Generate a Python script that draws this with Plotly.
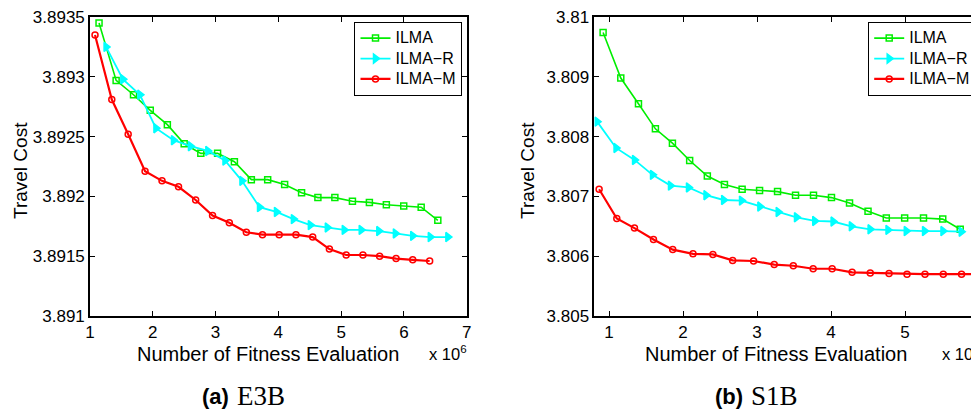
import plotly.graph_objects as go

# ---------------- data ----------------
series_names = ["ILMA", "ILMA\u2212R", "ILMA\u2212M"]

# (a) E3B
a_ilma_x = [1.144, 1.416, 1.693, 1.96, 2.232, 2.50, 2.765, 3.032, 3.30, 3.57, 3.83,
            4.10, 4.37, 4.63, 4.90, 5.18, 5.45, 5.72, 5.997, 6.275, 6.54]
a_ilma_y = [3.89345, 3.89297, 3.89285, 3.89272, 3.89260, 3.89244, 3.89236, 3.89236,
            3.89229, 3.89214, 3.89214, 3.89210, 3.89203, 3.89199, 3.89199, 3.89196,
            3.89195, 3.89193, 3.89192, 3.89191, 3.89180]
a_ilmar_x = [1.256, 1.523, 1.795, 2.05, 2.33, 2.60, 2.877, 3.15, 3.42, 3.70, 3.97,
             4.24, 4.51, 4.78, 5.05, 5.32, 5.60, 5.864, 6.14, 6.42, 6.70]
a_ilmar_y = [3.89325, 3.89298, 3.89285, 3.89257, 3.89247, 3.89242, 3.89238, 3.89230,
             3.89213, 3.89191, 3.89187, 3.89181, 3.89176, 3.89174, 3.89172, 3.89172,
             3.89171, 3.89169, 3.89167, 3.89166, 3.89166]
a_ilmam_x = [1.08, 1.347, 1.608, 1.877, 2.147, 2.41, 2.683, 2.952, 3.219, 3.49, 3.747,
             4.013, 4.28, 4.547, 4.813, 5.08, 5.347, 5.613, 5.875, 6.14, 6.41]
a_ilmam_y = [3.89335, 3.89281, 3.89252, 3.89221, 3.89213, 3.89208, 3.89197, 3.89184,
             3.89178, 3.89170, 3.89168, 3.89168, 3.89168, 3.89166, 3.89156, 3.89151,
             3.89151, 3.89150, 3.89148, 3.89147, 3.89146]

# (b) S1B
b_ilma_x = [0.919, 1.158, 1.397, 1.626, 1.856, 2.089, 2.328, 2.559, 2.798, 3.034, 3.277,
            3.52, 3.763, 4.006, 4.25, 4.50, 4.747, 4.995, 5.25, 5.51, 5.746]
b_ilma_y = [3.80974, 3.80898, 3.80855, 3.80813, 3.80789, 3.80760, 3.80734, 3.80720,
            3.80712, 3.80710, 3.80708, 3.80702, 3.80702, 3.80698, 3.80689, 3.80675,
            3.80664, 3.80664, 3.80664, 3.80662, 3.80645]
b_ilmar_x = [0.838, 1.094, 1.344, 1.587, 1.83, 2.073, 2.31, 2.548, 2.79, 3.038, 3.286,
             3.533, 3.78, 4.028, 4.275, 4.528, 4.77, 5.017, 5.264, 5.513, 5.76]
b_ilmar_y = [3.80825, 3.80781, 3.80761, 3.80736, 3.80718, 3.80715, 3.80702, 3.80694,
             3.80693, 3.80683, 3.80674, 3.80665, 3.80659, 3.80658, 3.80650, 3.80645,
             3.80644, 3.80642, 3.80642, 3.80642, 3.80641]
b_ilmam_x = [0.865, 1.104, 1.343, 1.60, 1.86, 2.134, 2.403, 2.67, 2.953, 3.232, 3.49,
             3.758, 4.015, 4.285, 4.53, 4.784, 5.027, 5.27, 5.517, 5.764, 6.01]
b_ilmam_y = [3.80712, 3.80663, 3.80647, 3.80628, 3.80611, 3.80604, 3.80603, 3.80593,
             3.80592, 3.80586, 3.80584, 3.80579, 3.80579, 3.80573, 3.80572, 3.80571,
             3.80570, 3.80570, 3.80570, 3.80570, 3.80570]

# tick labels
a_xticks = [1, 2, 3, 4, 5, 6, 7]
a_yticks = [3.891, 3.8915, 3.892, 3.8925, 3.893, 3.8935]
a_yticklabels = ["3.891", "3.8915", "3.892", "3.8925", "3.893", "3.8935"]
b_xticks = [1, 2, 3, 4, 5, 6]
b_yticks = [3.805, 3.806, 3.807, 3.808, 3.809, 3.81]
b_yticklabels = ["3.805", "3.806", "3.807", "3.808", "3.809", "3.81"]

x_title = "Number of Fitness Evaluation"
y_title = "Travel Cost"
x_scale = "x 10<sup>6</sup>"
captions = [("(a)", "E3B"), ("(b)", "S1B")]

# ---------------- styling ----------------
OFF = 8                      # the page body adds an 8px margin
W, H = 979 - OFF, 413 - OFF
SANS = "Liberation Sans, Arial, sans-serif"
SERIF = "Liberation Serif, Times New Roman, serif"
colors = ["#00ee00", "#00ffff", "#ff0000"]
symbols = ["square-open", "triangle-right", "circle-open"]
msizes = [6, 8, 6]
lwidths = [1.6, 1.8, 2.2]


def px(v):
    return (v - OFF) / W


def py(v):
    return (H - (v - OFF)) / H


fig = go.Figure()

sets = [
    ("x", "y", "legend", [(a_ilma_x, a_ilma_y), (a_ilmar_x, a_ilmar_y), (a_ilmam_x, a_ilmam_y)]),
    ("x2", "y2", "legend2", [(b_ilma_x, b_ilma_y), (b_ilmar_x, b_ilmar_y), (b_ilmam_x, b_ilmam_y)]),
]
for xa, ya, leg, data in sets:
    for i, (xs, ys) in enumerate(data):
        fig.add_trace(go.Scatter(
            x=xs, y=ys, mode="lines+markers",
            name='<span style="font-size:16px">' + series_names[i] + "</span>",
            xaxis=xa, yaxis=ya, legend=leg,
            line=dict(color=colors[i], width=lwidths[i]),
            marker=dict(symbol=symbols[i], size=msizes[i], color=colors[i],
                        line=dict(color=colors[i], width=1.5)),
        ))

axis_common = dict(showgrid=False, zeroline=False, showline=True, linecolor="black",
                   linewidth=1.6, ticks="inside", ticklen=5, tickwidth=1, tickcolor="black",
                   mirror="ticks", automargin=False, ticklabeloverflow="allow",
                   tickfont=dict(family=SANS, size=17, color="black"))

legend_common = dict(xanchor="right", yanchor="top", bgcolor="white", bordercolor="black",
                     borderwidth=1.2, font=dict(family=SANS, size=13.4, color="black"),
                     itemwidth=30, tracegroupgap=0)

fig.update_layout(
    width=W, height=H,
    margin=dict(l=0, r=0, t=0, b=0, pad=0, autoexpand=False),
    paper_bgcolor="white", plot_bgcolor="white",
    font=dict(family=SANS, color="black"),
    xaxis=dict(domain=[px(90), px(466.7)], range=[1, 7], tickvals=a_xticks,
               anchor="y", **axis_common),
    yaxis=dict(domain=[py(316), py(17)], range=[3.891, 3.8935], tickvals=a_yticks,
               ticktext=a_yticklabels, anchor="x", **axis_common),
    xaxis2=dict(domain=[px(594.3), 1.0], range=[0.8, 6.0], tickvals=b_xticks,
                anchor="y2", **axis_common),
    yaxis2=dict(domain=[py(316), py(17)], range=[3.805, 3.81], tickvals=b_yticks,
                ticktext=b_yticklabels, anchor="x2", **axis_common),
    legend=dict(x=px(462.3), y=py(21.7), **legend_common),
    legend2=dict(x=px(976), y=py(21.7), **legend_common),
    showlegend=True,
)

ann = []
# axis titles
for cx in (267.5, 776):
    ann.append(dict(text=x_title, x=px(cx), y=py(354), xref="paper", yref="paper",
                    xanchor="center", yanchor="middle", showarrow=False,
                    font=dict(family=SANS, size=20, color="black")))
for lx in (426.7, 939.5):
    ann.append(dict(text=x_scale, x=px(lx), y=py(353), xref="paper", yref="paper",
                    xanchor="left", yanchor="middle", showarrow=False,
                    font=dict(family=SANS, size=16.5, color="black")))
for cx in (20, 527):
    ann.append(dict(text=y_title, x=px(cx), y=py(171), xref="paper", yref="paper",
                    xanchor="center", yanchor="middle", textangle=-90, showarrow=False,
                    font=dict(family=SANS, size=19, color="black")))
# captions
for (lab, name), (rx, lx2) in zip(captions, [(231, 235), (745, 749)]):
    ann.append(dict(text="<b>" + lab + "</b>", x=px(rx), y=py(396), xref="paper",
                    yref="paper", xanchor="right", yanchor="middle", showarrow=False,
                    font=dict(family=SANS, size=22, color="black")))
    ann.append(dict(text=name, x=px(lx2), y=py(396), xref="paper", yref="paper",
                    xanchor="left", yanchor="middle", showarrow=False,
                    font=dict(family=SERIF, size=27, color="black")))
fig.update_layout(annotations=ann)

fig.write_html("out.html")
